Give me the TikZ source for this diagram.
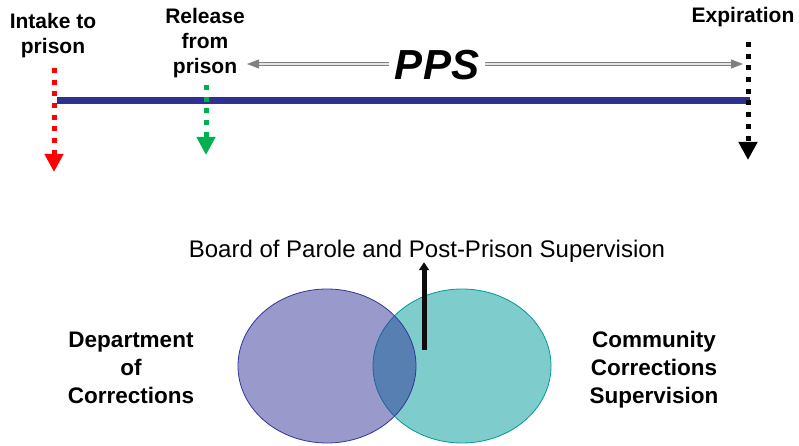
\documentclass[tikz,border=0pt]{standalone}
\usepackage{fontspec}
\setmainfont{Liberation Sans}
\usepackage{tikz}
\usetikzlibrary{arrows.meta, shapes.geometric}

\definecolor{timeline}{RGB}{46,49,146}
\definecolor{intake}{RGB}{255,0,0}
\definecolor{release}{RGB}{0,176,80}
\definecolor{docfill}{RGB}{51,51,153}
\definecolor{ccsfill}{RGB}{127,204,204}
\definecolor{ccsline}{RGB}{0,153,153}
\definecolor{spangray}{RGB}{128,128,128}

\begin{document}
\begin{tikzpicture}
[x=1pt, y=-1pt,
label/.style={font=\fontsize{21}{25}\selectfont\bfseries, align=center, inner sep=0pt, anchor=base},
agency/.style={font=\fontsize{22.5}{28}\selectfont\bfseries, align=center, inner sep=0pt, anchor=base},
marker/.style={line width=5pt, dash pattern=on 5pt off 6.7pt, -{Triangle[width=18pt, length=18pt]}},
span/.style={draw=spangray, double=white!80!spangray, line width=1pt, double distance=1.2pt, -{Triangle[width=9pt, length=12pt]}},
circ/.style={ellipse, minimum width=178pt, minimum height=154pt, inner sep=0pt, line width=0.8pt},
pointer/.style={line width=5pt, draw=black!95, -{Triangle[width=10pt, length=8pt]}}]

\useasboundingbox (0,0) rectangle (799,446);

% time line
\coordinate (lineStart) at (57,101);
\coordinate (lineEnd) at (750,101);
\draw[timeline, line width=7pt] (lineStart) -- (lineEnd);

\coordinate (intakeTop) at (54,68);
\coordinate (intakeTip) at (54,172);
\coordinate (releaseTop) at (206,85);
\coordinate (releaseTip) at (206,155);
\coordinate (expiryTop) at (748,42);
\coordinate (expiryTip) at (748,160);
\draw[marker, intake] (intakeTop) -- (intakeTip);
\draw[marker, release] (releaseTop) -- (releaseTip);
\draw[marker, black] (expiryTop) -- (expiryTip);

\node[label] (intake) at (53,54) {Intake to\\prison};
\node[label] (release) at (205,74) {Release\\from\\prison};
\node[label] (expiry) at (743,23) {Expiration};

\node[font=\fontsize{42}{42}\selectfont\bfseries\itshape, anchor=base, inner sep=6pt] (pps) at (437,80) {PPS};
\coordinate (ppsLeft) at (247,64);
\coordinate (ppsRight) at (743,64);
\draw[span] (pps.west |- ppsLeft) -- (ppsLeft);
\draw[span] (pps.east |- ppsRight) -- (ppsRight);

% agencies
\node[circ, draw=ccsline, fill=ccsfill] (ccs) at (462,366) {};
\node[circ, draw=docfill, fill=docfill, fill opacity=0.5] (doc) at (327,366) {};

\node[agency] (docLabel) at (131,403) {Department\\of\\Corrections};
\node[agency] (ccsLabel) at (654,403) {Community\\Corrections\\Supervision};
\node[font=\fontsize{24}{24}\selectfont, anchor=base, inner sep=0pt] (board) at (427,257) {Board of Parole and Post-Prison Supervision};

\coordinate (boardFoot) at (424,350);
\draw[pointer] (boardFoot) -- (boardFoot |- board.south);
\end{tikzpicture}
\end{document}
